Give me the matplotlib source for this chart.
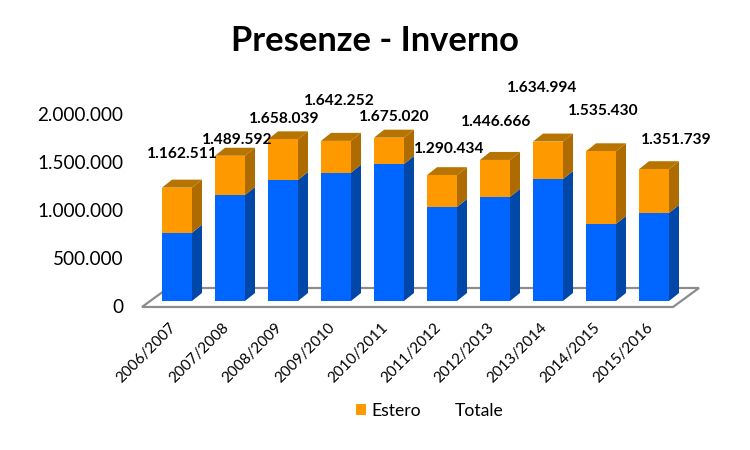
import matplotlib
matplotlib.use('Agg')
import matplotlib.pyplot as plt
from matplotlib.patches import Patch, Polygon
from matplotlib.ticker import FuncFormatter
from matplotlib.transforms import ScaledTranslation

plt.rcParams['font.family'] = ['Lato', 'DejaVu Sans']

# Data
stagioni = ['2006/2007', '2007/2008', '2008/2009', '2009/2010', '2010/2011',
            '2011/2012', '2012/2013', '2013/2014', '2014/2015', '2015/2016']
italia = [700000, 1087000, 1241000, 1316000, 1405000,
          964000, 1067000, 1251000, 790000, 903000]
estero = [462511, 402592, 417039, 326252, 270020,
          326434, 379666, 383994, 745430, 448739]
totale = [1162511, 1489592, 1658039, 1642252, 1675020,
          1290434, 1446666, 1634994, 1535430, 1351739]

# Label offsets from bar top, pixels
label_dx = [5, 7, 1, 3, 5, 7, 1, -6, 2, 22]
label_dy = [34, 16, 20, 40, 21, 26, 38, 54, 40, 29]

W, H = 750, 450
BLUE, BLUE_SIDE = '#0066FF', '#0047A8'
ORANGE, ORANGE_SIDE, ORANGE_TOP = '#FF9900', '#AD6B00', '#B87400'


def dotted(v, pos=None):
    return f'{int(v):,}'.replace(',', '.')


fig = plt.figure(figsize=(W / 100, H / 100), dpi=100)

# Main axes: 53 px per category, 0 at y=301 px, 2M at y=106 px
ax = fig.add_axes([140 / W, (H - 301) / H, 560 / W, 195 / H])
ax.set_xlim((140 - 177) / 53, (700 - 177) / 53)
ax.set_ylim(0, 2000000)
px_x = 1 / 53
px_y = 2000000 / 195
ax.patch.set_visible(False)
for s in ax.spines.values():
    s.set_visible(False)

# Floor of the 3D plot
floor = Polygon([(-35 * px_x, -6 * px_y), (496 * px_x, -6 * px_y),
                 (522 * px_x, 13 * px_y), (-9 * px_x, 13 * px_y)],
                closed=True, fc='white', ec='#8C8C8C', lw=1.6, clip_on=False, zorder=1)
ax.add_patch(floor)

# Bars with depth
bar_w = 30 * px_x
dx, dy = 10 * px_x, 8 * px_y
xs = list(range(len(stagioni)))
ax.bar(xs, italia, width=bar_w, color=BLUE, zorder=3)
ax.bar(xs, estero, width=bar_w, bottom=italia, color=ORANGE, zorder=3)
for i in xs:
    r = i + bar_w / 2
    l = i - bar_w / 2
    a = italia[i]
    t = italia[i] + estero[i]
    ax.add_patch(Polygon([(r, 0), (r + dx, dy), (r + dx, a + dy), (r, a)],
                         fc=BLUE_SIDE, ec='none', zorder=2, clip_on=False))
    ax.add_patch(Polygon([(r, a), (r + dx, a + dy), (r + dx, t + dy), (r, t)],
                         fc=ORANGE_SIDE, ec='none', zorder=2, clip_on=False))
    ax.add_patch(Polygon([(l, t), (l + dx, t + dy), (r + dx, t + dy), (r, t)],
                         fc=ORANGE_TOP, ec='none', zorder=2, clip_on=False))
    ax.annotate(dotted(totale[i]), (i, t),
                xytext=(label_dx[i] * 0.72, label_dy[i] * 0.72), textcoords='offset points',
                ha='center', va='center', fontsize=11.2, fontweight='bold',
                color='black', zorder=5)

ax.set_xticks(xs)
ax.set_xticklabels(stagioni, rotation=45, ha='right', rotation_mode='anchor',
                   fontsize=11, color='black')
ax.tick_params(axis='x', length=0, pad=14)
ax.set_yticks([])
# Shift the rotated labels left of their bars
shift = ScaledTranslation(-8 / 100, 0, fig.dpi_scale_trans)
for lab in ax.get_xticklabels():
    lab.set_transform(lab.get_transform() + shift)

# Value labels sit on their own slightly tighter scale, as in the 3D projection
ax_y = fig.add_axes([127 / W, (H - 306) / H, 10 / W, 192 / H], frameon=False)
ax_y.set_ylim(0, 2000000)
ax_y.set_xticks([])
ax_y.set_yticks([0, 500000, 1000000, 1500000, 2000000])
ax_y.yaxis.set_major_formatter(FuncFormatter(dotted))
ax_y.tick_params(axis='y', length=0, pad=2.5, labelsize=13.6)

fig.text(375 / W, 1 - 41 / H, 'Presenze - Inverno', ha='center', va='center',
         fontsize=24.8, fontweight='bold', color='black')

handles = [Patch(fc=ORANGE, ec='none', label='Estero'), Patch(fc='none', ec='none', label='Totale')]
fig.legend(handles=handles, ncols=2, loc='center', bbox_to_anchor=(430 / W, 1 - 411 / H),
           frameon=False, fontsize=12.6, handlelength=0.57, handleheight=0.57,
           handletextpad=0.3, columnspacing=1.08)

fig.savefig('out.png', dpi=100)
